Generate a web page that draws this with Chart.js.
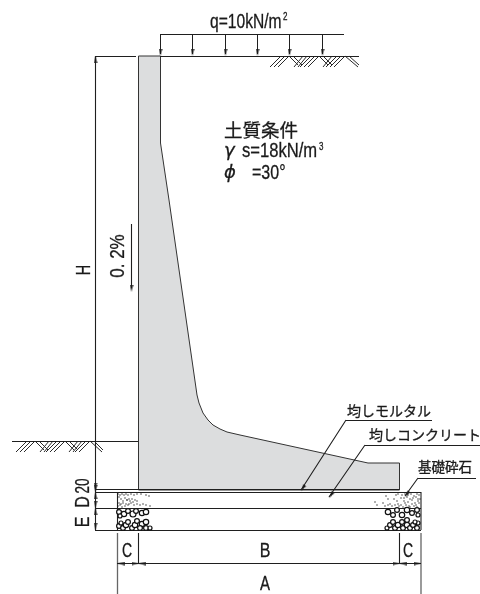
<!DOCTYPE html>
<html><head><meta charset="utf-8">
<style>html,body{margin:0;padding:0;background:#fff}canvas{display:block}</style>
<script src="https://cdn.jsdelivr.net/npm/chart.js@4"></script></head>
<body><canvas id="c" width="480" height="594" style="width:480px;height:594px"></canvas>
<script>
const wallX=[138.5,160.5,160.5,169,197,199,203,208,213,220,227,240,368,399.5,399.5,138.5,138.5];
const wallY=[56,56,143,200,395,403,413,420,425,429,432,435,463,463,490,490,56];
const blackSegs=[[160,34.5,344,34.5],[160,56.5,359,56.5],[95.5,56.5,136,56.5],[12,441.5,138,441.5],[95.5,56,95.5,530],
[95,489.5,399,489.5],[95,492.5,421,492.5],[95,508.5,421,508.5],[95,530.5,421,530.5],
[117.5,492,117.5,530],[421,492,421,530],[117,563.5,421,563.5],[138.5,533,138.5,563],[399.5,533,399.5,563],
[131.5,224,131.5,288],[346,420.5,432,420.5],[346,420,301,490],[365,445.5,480,445.5],[365,445,329,497],[418,478.5,476,478.5],[418,478,405,496]];
const greySegs=[[117.5,533,117.5,594],[421,533,421,594]];
const loadX=[160.5,192.5,225.5,257.5,289.5,322.5];
const hatchSegs=[[281,56,270,67],[285,56,274,67],[289,56,278,67],[289,56,298,65],[293,56,302,65],[303,56,294,67],[307,56,298,67],
[311,56,300,67],[315,56,304,67],[319,56,308,67],[319,56,328,65],[323,56,332,65],[332,56,323,67],[337,56,326,67],[341,56,330,67],[345,56,334,67],[345,56,358,67],[349,56,359,65],
[27,441,16,452],[31,441,20,452],[35,441,24,452],[35,441,44,450],[39,441,48,450],[49,441,40,452],[53,441,44,452],
[57,441,46,452],[61,441,50,452],[65,441,54,452],[65,441,74,450],[69,441,78,450],[78,441,69,452],[82,441,73,452],[86,441,75,452],[90,441,79,452],[90,441,102,452],[94,441,103,450]];
const arrowX=[160.5,192.5,225.5,257.5,289.5,322.5,95.5,95.5,95.5,95.5,95.5,95.5,95.5,131.5,117.5,138.5,138.5,399.5,399.5,421,301,329,405];
const arrowY=[56,56,56,56,56,56,56,489.5,492,508,508,530,492,292,563.5,563.5,563.5,563.5,563.5,563.5,491,498,497];
const arrowRot=[180,180,180,180,180,180,0,180,0,180,0,180,180,180,270,90,270,90,270,90,213,215,216];
const stoneX=[119,124,128,133,136,142,146,120,119,123,126,132,128,135,137,142,146,140,146,150,121,
388,393,397,402,407,412,417,418,387,390,393,395,398,402,403,407,410,413,417,418,407,415];
const stoneY=[512,514,511,514,511,513,512,516,526,528,525,528,522,525,521,524,522,528,528,528,523,
512,515,510,515,510,513,510,515,528,525,522,528,525,522,528,525,528,525,528,523,520,522];
const stoneR=[2.4,2.7,2.4,3,2.4,2.7,2.7,2,2.4,2.4,2.7,2.4,2.4,2.7,2.4,2.7,2.7,2.4,2.4,2,2,
2.7,2.4,2.4,2.7,2.7,2.4,2.4,2,2,2.4,2.4,2.4,2.7,2.4,2.4,2.7,2.4,2.4,2.4,2,2.4,2];
const dotX=[118,120,122,124,126,128,131,134,137,141,146,149,119,121,125,123,127,129,132,135,137,127,130,133,119,121,123,126,129,131,134,137,140,143,146,150,118,120,122,125,128,
386,388,383,385,396,398,402,405,408,411,414,417,419,404,407,410,413,416,418,394,397,401,404,408,412,415,418,420,398,401,405,409,412,416,419,388,390,392,395,399,403,406,410,414,417,375,377];
const dotY=[494,495,494,495,494,495,494,495,494,494,495,496,497,499,498,501,500,499,499,500,501,500,501,502,503,504,503,504,504,503,505,504,505,504,505,506,506,505,507,506,505,
496,499,503,506,495,494,495,494,495,494,496,494,495,498,497,499,498,497,499,499,501,498,501,502,500,503,501,499,504,505,503,506,504,505,503,505,504,506,505,506,507,505,507,506,507,502,505];
const textLabels=["q=10kN/m","2","γ","s=18kN/m","3","ϕ","=30°","土質条件","均しモルタル","均しコンクリート","基礎砕石","C","B","C","A","H","0. 2%","20","D","E"];
const textX=[210,283,224,242,319,224,252,224,347,369,418,127,265,408,265,84,118,83,83,83];
const textY=[22,17,151,151,147,173,173,130,411,435,467,551,551,551,584,270,256,486,502,522];
const textRot=[0,0,0,0,0,0,0,0,0,0,0,0,0,0,0,-90,-90,-90,-90,-90];
const textStretch=[.78,.8,1,.83,.8,1,.8,1,1,1,1,.7,.8,.7,.75,.72,.85,.67,.8,.8];

function segPts(segs){const p=[];segs.forEach(s=>{p.push({x:s[0],y:s[1]},{x:s[2],y:s[3]},{x:NaN,y:NaN});});return p;}
function zip(xs,ys){return xs.map((x,i)=>({x,y:ys[i]}));}
const head=document.createElement('canvas');head.width=4;head.height=14;
const hc=head.getContext('2d');hc.fillStyle='#1a1a1a';hc.beginPath();hc.moveTo(2,7);hc.lineTo(3.6,14);hc.lineTo(.4,14);hc.closePath();hc.fill();
const loadSegs=loadX.map(x=>[x,34.5,x,54]);
const fontFor=i=>{
 const t=textLabels[i];
 if(t==="2"||t==="3")return '10px "Liberation Sans"';
 if(t==="土質条件")return '18.5px "Noto Sans CJK JP"';
 if(/[均基]/.test(t))return (t[0]==="基"?'13.5px':'14px')+' "Noto Sans CJK JP"';
 if(t==="γ"||t==="ϕ")return 'italic 18px "DejaVu Sans"';
 return '20px "Liberation Sans"';
};
const labelPlugin={id:'labels',afterDatasetsDraw(ch){const c=ch.ctx,xs=ch.scales.x,ys=ch.scales.y;
 textLabels.forEach((t,i)=>{c.save();c.translate(xs.getPixelForValue(textX[i]),ys.getPixelForValue(textY[i]));
  c.rotate(textRot[i]*Math.PI/180);c.scale(textStretch[i],1);c.font=fontFor(i);c.fillStyle='#1a1a1a';c.strokeStyle='#1a1a1a';c.lineWidth=.3;c.textBaseline='middle';
  const single=t.length===1&&/[A-Z]/.test(t);c.textAlign=(textRot[i]||single)?'center':'left';
  c.fillText(t,0,0);c.strokeText(t,0,0);c.restore();});}};
const line=(data,color,w)=>({type:'scatter',data,showLine:true,borderColor:color,borderWidth:w,pointRadius:0,tension:0,fill:false,spanGaps:false,clip:false});
new Chart(document.getElementById('c'),{type:'scatter',data:{datasets:[
 {type:'scatter',data:zip(arrowX,arrowY),pointStyle:head,pointRotation:arrowRot,pointRadius:3,clip:false},
 {type:'scatter',data:zip(dotX,dotY),pointRadius:.7,pointBackgroundColor:'#222',pointBorderWidth:0},
 {type:'scatter',data:zip(stoneX,stoneY),pointRadius:stoneR,pointBackgroundColor:'#fff',pointBorderColor:'#111',pointBorderWidth:1.2},
 line(segPts(blackSegs),'#1f1f1f',1.1),line(segPts(greySegs),'#666',1.3),line(segPts(loadSegs),'#1f1f1f',1),line(segPts(hatchSegs),'#2a2a2a',1),
 {type:'scatter',data:zip(wallX,wallY),showLine:true,fill:'shape',backgroundColor:'#dcddde',borderColor:'#333',borderWidth:1,pointRadius:0,tension:0}
]},options:{responsive:false,animation:false,devicePixelRatio:1,layout:{padding:0,autoPadding:false},events:[],
 plugins:{legend:{display:false},tooltip:{enabled:false}},
 scales:{x:{type:'linear',min:0,max:480,display:false},y:{type:'linear',min:0,max:594,reverse:true,display:false}}},
 plugins:[labelPlugin]});
</script></body></html>
